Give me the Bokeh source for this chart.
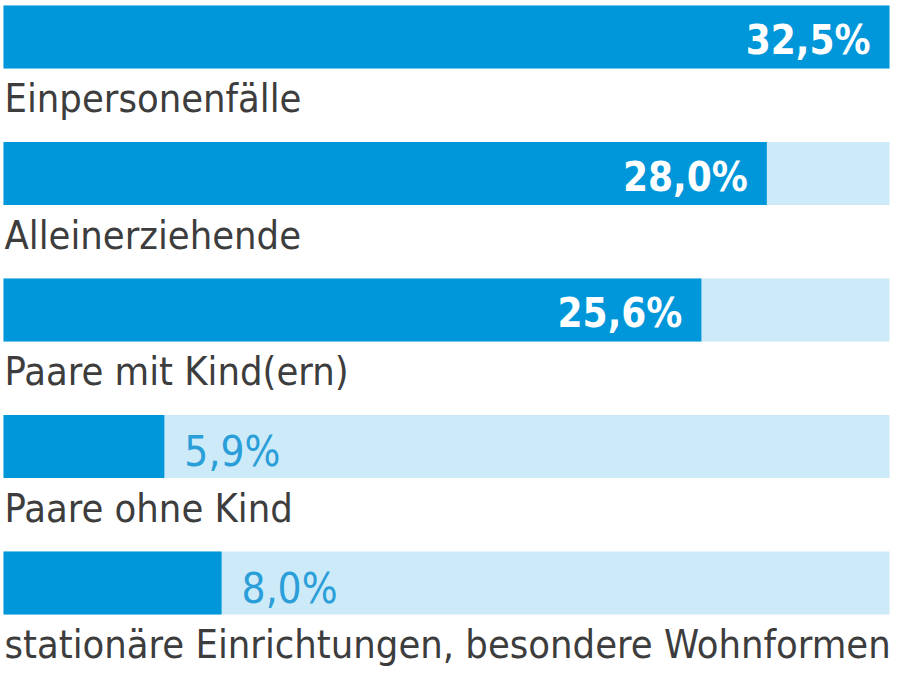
from bokeh.plotting import figure
from bokeh.models import Range1d, ColumnDataSource
from bokeh.core.properties import value
from bokeh.embed import file_html
from bokeh.resources import INLINE

categories = ["Einpersonenfälle", "Alleinerziehende", "Paare mit Kind(ern)",
              "Paare ohne Kind", "stationäre Einrichtungen, besondere Wohnformen"]
values = [32.5, 28.0, 25.6, 5.9, 8.0]
value_labels = ["32,5%", "28,0%", "25,6%", "5,9%", "8,0%"]

BAR = "#0096da"
TRACK = "#cceaf8"
TEXT = "#3d3d3d"

idx = list(range(len(categories)))
vmax = max(values)

W, H = 892, 667
ppu = 886 / vmax
p = figure(width=W, height=H, x_range=Range1d(-3 / ppu, vmax + 3 / ppu),
           y_range=Range1d((H - 36.5) / 136.5, -36.5 / 136.5), output_backend="svg",
           toolbar_location=None, min_border=0, x_axis_location=None,
           y_axis_location=None)
p.grid.visible = False
p.outline_line_color = None
p.background_fill_color = "white"
p.border_fill_color = "white"

src = ColumnDataSource(dict(y=idx, v=values, cat=categories, lab=value_labels,
                            track=[vmax] * len(values)))
p.hbar(y="y", left=0, right="track", height=0.4615, source=src,
       fill_color=TRACK, line_color=None)
p.hbar(y="y", left=0, right="v", height=0.4615, source=src,
       fill_color=BAR, line_color=None)

p.text(x=0, y="y", text="cat", source=src, x_offset=1, y_offset=61,
       text_baseline="alphabetic", text_align="left",
       text_font=value("DejaVu Sans Condensed"), text_font_size="39.5px",
       text_color=TEXT)

inside = [i for i, v in enumerate(values) if v > 15]
outside = [i for i, v in enumerate(values) if v <= 15]
src_in = ColumnDataSource(dict(y=[idx[i] for i in inside], v=[values[i] for i in inside],
                               lab=[value_labels[i] for i in inside]))
src_out = ColumnDataSource(dict(y=[idx[i] for i in outside], v=[values[i] for i in outside],
                                lab=[value_labels[i] for i in outside]))
p.text(x="v", y="y", text="lab", source=src_in, x_offset=-19, y_offset=3,
       text_baseline="alphabetic", text_align="right",
       text_font=value("DejaVu Sans Condensed"), text_font_style="bold",
       text_font_size="40px", text_color="white")
p.text(x="v", y="y", text="lab", source=src_out, x_offset=20, y_offset=5,
       text_baseline="alphabetic", text_align="left",
       text_font=value("DejaVu Sans Condensed"), text_font_size="42px",
       text_color="#2a9ed8")

open("out.html", "w").write(file_html(p, INLINE))
